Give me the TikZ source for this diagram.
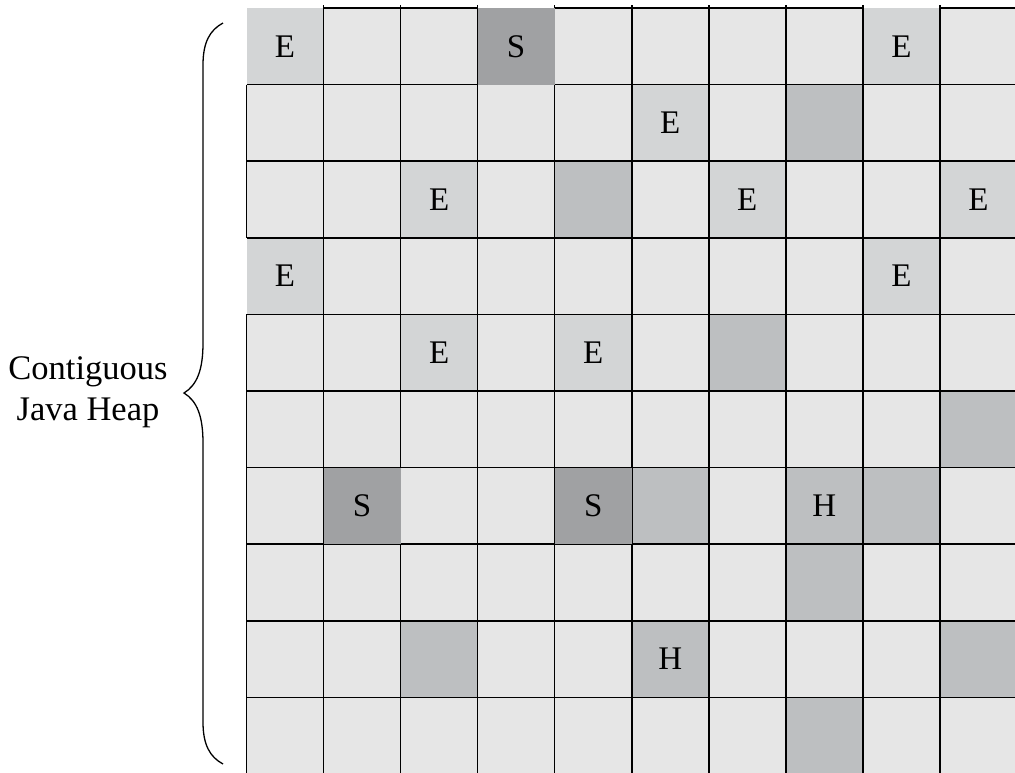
\documentclass[tikz,border=0pt]{standalone}
\usepackage{fontspec}
\setmainfont{Liberation Serif}
\definecolor{freegray}{HTML}{E6E6E6}
\definecolor{edengray}{HTML}{D3D5D6}
\definecolor{oldgray}{HTML}{BDBFC1}
\definecolor{survgray}{HTML}{A0A1A3}
\tikzset{
  free/.style={fill=freegray},
  eden/.style={fill=edengray},
  old/.style={fill=oldgray},
  surv/.style={fill=survgray},
  gridline/.style={line width=1.5pt, black},
  letter/.style={font=\fontsize{33}{40}\selectfont, inner sep=0pt}
}
\begin{document}
\begin{tikzpicture}[x=1pt, y=-1pt]
        \useasboundingbox (0,0) rectangle (1015,772);
        \clip (0,0) rectangle (1015,772);
        % free regions
        \fill[free] (246.5,8) rectangle (1020,780);
        % eden and old regions
        \foreach \c/\r/\k in {0/0/eden, 8/0/eden, 5/1/eden, 7/1/old, 2/2/eden, 4/2/old, 6/2/eden, 9/2/eden,
                0/3/eden, 8/3/eden, 2/4/eden, 4/4/eden, 6/4/old, 9/5/old, 5/6/old, 7/6/old, 8/6/old,
                7/7/old, 2/8/old, 5/8/old, 9/8/old, 7/9/old}
            \fill[\k] (246.5+77.05*\c, 8+76.6*\r) rectangle +(77.05,76.6);
        % grid
        \foreach \i in {1,...,9} {
            \draw[gridline] (246.5+77.05*\i, 5) -- (246.5+77.05*\i, 780);
            \draw[gridline] (246.5, 8+76.6*\i) -- (1020, 8+76.6*\i);
        }
        \foreach \c in {1,2,4,5,6,7,9}
            \draw[gridline] (246.5+77.05*\c, 8) -- +(77.05,0);
        \foreach \r in {1,2,4,5,6,7,8,9}
            \draw[gridline] (246.5, 8+76.6*\r) -- +(0,76.6);
        % survivor regions
        \foreach \c/\r in {3/0, 1/6, 4/6}
            \fill[surv] (246.5+77.05*\c, 8+76.6*\r) rectangle +(77.05,76.6);
        % labels
        \foreach \c/\r/\t in {0/0/E, 3/0/S, 8/0/E, 5/1/E, 2/2/E, 6/2/E, 9/2/E, 0/3/E, 8/3/E,
                2/4/E, 4/4/E, 1/6/S, 4/6/S, 7/6/H, 5/8/H}
            \node[letter] (cell-\c-\r) at (246.5+77.05*\c+38.5, 8+76.6*\r+38.3) {\t};
        % brace
        \draw[line width=1.3pt] (223,23) .. controls (210,30) and (203,42) .. (203,65) -- (203,343)
            .. controls (203,370) and (197,385) .. (184,393) .. controls (197,401) and (203,416) .. (203,443)
            -- (203,722) .. controls (203,745) and (210,757) .. (223,764);
        \node[align=center, font=\fontsize{34.5}{41}\selectfont, inner sep=0pt] (heap) at (88,392) {Contiguous\\Java Heap};
    \end{tikzpicture}
\end{document}
